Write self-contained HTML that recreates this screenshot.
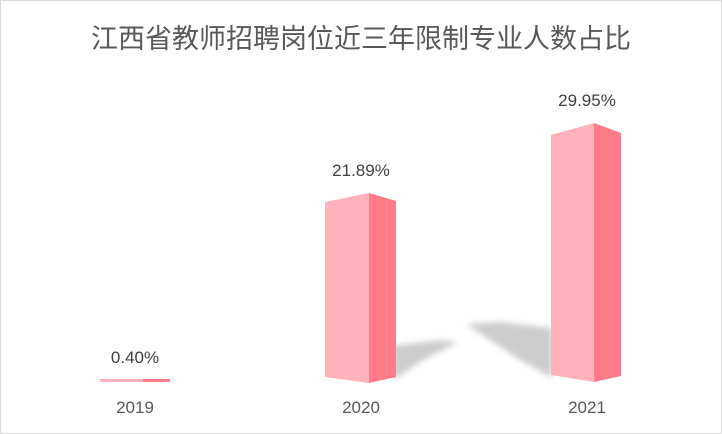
<!DOCTYPE html>
<html><head><meta charset="utf-8"><style>
html,body{margin:0;padding:0;background:#fff}
svg{display:block}
text{font-family:"Liberation Sans","Noto Sans CJK SC",sans-serif}
</style></head><body>
<svg width="722" height="434" viewBox="0 0 722 434" xmlns="http://www.w3.org/2000/svg">
<defs>
<filter id="b" x="-50%" y="-50%" width="200%" height="200%"><feGaussianBlur stdDeviation="3"/></filter>
</defs>
<rect x="0.5" y="0.5" width="721" height="433" fill="#fff" stroke="#d9d9d9"/>
<text x="361" y="48" text-anchor="middle" font-size="27" fill="#595959" font-family="'Noto Sans CJK SC',sans-serif">江西省教师招聘岗位近三年限制专业人数占比</text>
<!-- shadows -->
<polygon points="392,346 440,340 458,342 420,362 394,380" fill="#cdcdcd" filter="url(#b)"/>
<polygon points="466,324 500,322 552,328 552,378 520,360" fill="#cdcdcd" filter="url(#b)"/>
<!-- 2019 -->
<rect x="100" y="379" width="43" height="3" fill="#ffb1bb"/>
<rect x="143" y="379" width="27" height="3" fill="#ff7b89"/>
<!-- 2020 -->
<polygon points="325,202 369,193 369,383 325,377" fill="#ffb1bb"/>
<polygon points="369,193 396,201 396,377 369,383" fill="#ff7b89"/>
<!-- 2021 -->
<polygon points="551,135 594,123 594,382 551,375" fill="#ffb1bb"/>
<polygon points="594,123 621,133 621,376 594,382" fill="#ff7b89"/>
<g font-size="17" fill="#404040" text-anchor="middle">
<text x="135" y="363">0.40%</text>
<text x="361" y="176">21.89%</text>
<text x="587" y="106">29.95%</text>
</g>
<g font-size="17" fill="#595959" text-anchor="middle">
<text x="135" y="413">2019</text>
<text x="361" y="413">2020</text>
<text x="587" y="413">2021</text>
</g>
</svg>
</body></html>
